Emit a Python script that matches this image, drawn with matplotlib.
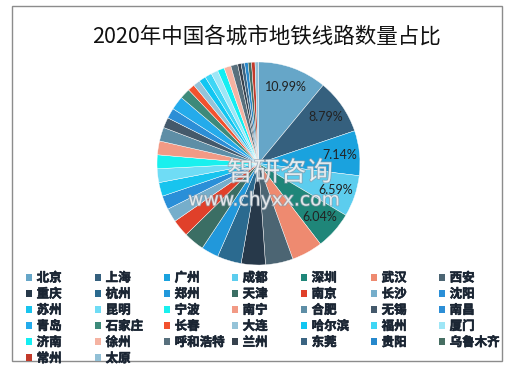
import matplotlib
matplotlib.use('Agg')
import matplotlib.pyplot as plt
from matplotlib.patches import Patch, Rectangle
import matplotlib.patheffects as pe

plt.rcParams['font.family'] = ['Noto Sans CJK SC', 'DejaVu Sans']

# ---- data ----
cities = ['北京', '上海', '广州', '成都', '深圳', '武汉', '西安',
          '重庆', '杭州', '郑州', '天津', '南京', '长沙', '沈阳',
          '苏州', '昆明', '宁波', '南宁', '合肥', '无锡', '南昌',
          '青岛', '石家庄', '长春', '大连', '哈尔滨', '福州', '厦门',
          '济南', '徐州', '呼和浩特', '兰州', '东莞', '贵阳', '乌鲁木齐',
          '常州', '太原']
lines = [20, 16, 13, 12, 11, 9, 8,
         7, 7, 5, 6, 5, 4, 4,
         4, 4, 4, 4, 4, 3, 3,
         4, 3, 2, 2, 2, 2, 2,
         2, 2, 2, 1, 1, 1, 1,
         1, 1]
colors = ['#66A6C8', '#35607E', '#1AA2DE', '#5CCDEE', '#1F8679', '#EE8A70', '#4C6573',
          '#27394A', '#2B6A8F', '#2198DB', '#3B6E64', '#E0402A', '#76AECB', '#2A8FD8',
          '#18C4EE', '#6FDCF5', '#19F0EE', '#F29A85', '#5E8EA6', '#44596B', '#2C8ED6',
          '#24ABEB', '#3D8A7A', '#F2512E', '#95C3D8', '#11C6F2', '#3ED6F5', '#9EE6F6',
          '#13EEF2', '#F5B3A2', '#58707D', '#37424E', '#3B6482', '#2688CC', '#466E62',
          '#C33A2A', '#92C0D6']

W, H = 527, 373
fig = plt.figure(figsize=(W / 100, H / 100), dpi=100)

# outer frame
fig.patches.append(Rectangle((12 / W, 1 - 361 / H), 490 / W, 355 / H,
                             transform=fig.transFigure, fill=False,
                             ec='#8c8c8c', lw=1))

fig.text(266 / W, 1 - 37 / H, '2020年中国各城市地铁线路数量占比',
         ha='center', va='center', fontsize=15.5, color='#111111')

# pie
cx, cy, r = 258.5, 163.5, 101.5
ax = fig.add_axes([(cx - r) / W, (H - cy - r) / H, 2 * r / W, 2 * r / H])


def pct(p):
    return '%.2f%%' % p if p > 5.5 else ''


wedges, texts, autotexts = ax.pie(lines, colors=colors, startangle=90,
                                  counterclock=False, autopct=pct,
                                  pctdistance=0.8,
                                  wedgeprops=dict(edgecolor='white', linewidth=0.3),
                                  textprops=dict(fontsize=9, color='#222222',
                                                 family=['Lato', 'DejaVu Sans']))
ax.set_xlim(-1, 1)
ax.set_ylim(-1, 1)

# watermark
wm = [pe.withStroke(linewidth=1.2, foreground='#8a9aa8')]
fig.text(280 / W, 1 - 173 / H, '智研咨询', ha='center', va='center',
         fontsize=19, color='white', alpha=0.7, path_effects=wm)
fig.text(264 / W, 1 - 200 / H, 'www.chyxx.com', ha='center', va='center',
         fontsize=13.5, color='white', alpha=0.7, path_effects=wm,
         family=['DejaVu Sans'])

# legend: 7 columns, filled row by row
col_x = [26, 95, 164, 232, 301, 371, 439]
bold = [pe.withStroke(linewidth=0.4, foreground='#1a2533')]
for j, x in enumerate(col_x):
    idx = list(range(j, len(cities), 7))
    handles = [Patch(facecolor=colors[i]) for i in idx]
    labels = [cities[i] for i in idx]
    leg = fig.legend(handles, labels, loc='upper left',
                     bbox_to_anchor=(x / W, 1 - 271.5 / H), frameon=False,
                     borderpad=0, borderaxespad=0, handlelength=0.5,
                     handleheight=0.5, handletextpad=0.35, labelspacing=0.25,
                     prop=dict(size=9, weight='bold'), labelcolor='#1a2533')
    for t in leg.get_texts():
        t.set_path_effects(bold)

fig.savefig('out.png', dpi=100)
